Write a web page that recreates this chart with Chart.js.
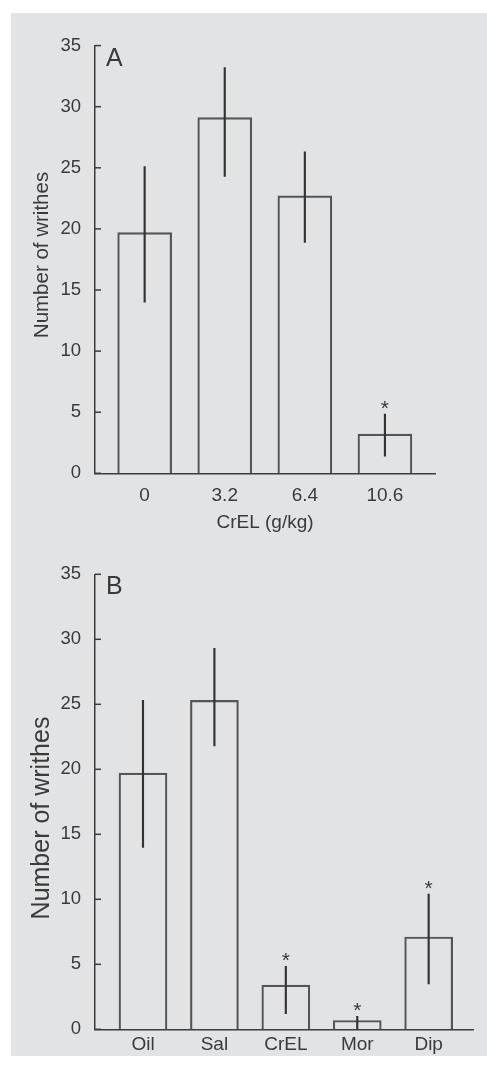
<!DOCTYPE html>
<html><head><meta charset="utf-8">
<script src="https://cdn.jsdelivr.net/npm/chart.js@4.4.0/dist/chart.umd.min.js"></script>
<style>
html,body{margin:0;padding:0;background:#fff;}
body{width:487px;height:1067px;position:relative;overflow:hidden;}
#bg{position:absolute;left:11px;top:13px;width:476px;height:1043px;background:#e2e3e5;}
#wa{position:absolute;left:0;top:0;width:487px;height:540px;}
#wb{position:absolute;left:0;top:540px;width:487px;height:527px;}
canvas{display:block;}
</style></head><body>
<div id="bg"></div>
<div id="wa"><canvas id="ca" width="487" height="540"></canvas></div>
<div id="wb"><canvas id="cb" width="487" height="527"></canvas></div>
<script>
// ---- data ----
const catsA = ['0', '3.2', '6.4', '10.6'];
const meanA = [19.7, 29.1, 22.7, 3.2];
const errHiA = [25.1, 33.2, 26.3, 4.85];
const errLoA = [14.0, 24.3, 18.9, 1.4];
const sigA = [false, false, false, true];

const catsB = ['Oil', 'Sal', 'CrEL', 'Mor', 'Dip'];
const meanB = [19.7, 25.3, 3.4, 0.68, 7.1];
const errHiB = [25.3, 29.3, 4.85, 1.0, 10.4];
const errLoB = [14.0, 21.8, 1.2, 0.05, 3.5];
const sigB = [false, false, true, true, true];

const yTicks = [0, 5, 10, 15, 20, 25, 30, 35];
const yTitle = 'Number of writhes';
const xTitleA = 'CrEL (g/kg)';

// ---- styling ----
const FAM = '"Liberation Sans", Arial, Helvetica, sans-serif';
Chart.defaults.font.family = FAM;
const TXT = '#3a3a3a';
const AXIS = '#3c3c3c';

function build(id, cats, mean, hi, lo, sig, cfg) {
  const decor = {
    id: 'decor' + id,
    afterDraw(chart) {
      const {ctx, chartArea, scales: {x, y}} = chart;
      ctx.save();
      // inward tick marks
      ctx.strokeStyle = AXIS;
      ctx.lineWidth = 1.5;
      yTicks.forEach(v => {
        const py = y.getPixelForValue(v);
        ctx.beginPath();
        ctx.moveTo(chartArea.left, py);
        ctx.lineTo(chartArea.left + 6, py);
        ctx.stroke();
      });
      // significance asterisks
      ctx.fillStyle = TXT;
      ctx.font = '21px ' + FAM;
      ctx.textAlign = 'center';
      ctx.textBaseline = 'alphabetic';
      sig.forEach((s, i) => {
        if (!s) return;
        ctx.fillText('*', x.getPixelForValue(i), y.getPixelForValue(hi[i]) + 1);
      });
      // panel letter
      ctx.font = '25px ' + FAM;
      ctx.textAlign = 'left';
      ctx.fillText(cfg.letter, chartArea.left + 11, chartArea.top + 20);
      // y axis title
      ctx.translate(42, cfg.titleY);
      ctx.rotate(-Math.PI / 2);
      ctx.font = cfg.titleSize + 'px ' + FAM;
      ctx.textAlign = 'center';
      ctx.textBaseline = 'middle';
      ctx.fillText(yTitle, 0, 0);
      ctx.restore();
    }
  };

  return new Chart(document.getElementById(id), {
    type: 'bar',
    data: {
      datasets: [
        {
          label: 'SEM',
          data: cats.map((c, i) => ({x: i, y: [lo[i], hi[i]]})),
          backgroundColor: '#333333',
          borderWidth: 0,
          barThickness: 1.5,
          grouped: false,
          order: 0
        },
        {
          label: 'Mean',
          data: cats.map((c, i) => ({x: i, y: mean[i]})),
          backgroundColor: 'rgba(0,0,0,0)',
          borderColor: '#555555',
          borderWidth: 1.5,
          borderSkipped: 'bottom',
          barThickness: cfg.barW,
          grouped: false,
          order: 1
        }
      ]
    },
    options: {
      responsive: false,
      animation: false,
      events: [],
      devicePixelRatio: 1,
      layout: {padding: cfg.pad},
      plugins: {legend: {display: false}, tooltip: {enabled: false}},
      scales: {
        x: {
          type: 'linear',
          offset: false,
          min: cfg.xMin,
          max: cfg.xMax,
          afterBuildTicks: s => { s.ticks = cats.map((c, i) => ({value: i})); },
          grid: {display: false, drawTicks: false, offset: false},
          border: {display: true, color: AXIS, width: 1.5},
          ticks: {
            callback: v => cats[v],
            color: TXT,
            font: {size: 19},
            padding: cfg.xPad,
            maxRotation: 0,
            autoSkip: false
          },
          title: cfg.xTitle ? {display: true, text: cfg.xTitle, color: TXT, font: {size: 19}, padding: 0} : {display: false},
          afterFit: s => { s.height = cfg.xH; }
        },
        y: {
          min: 0,
          max: 35,
          afterBuildTicks: s => { s.ticks = yTicks.map(v => ({value: v})); },
          grid: {display: false, drawTicks: false},
          border: {display: true, color: AXIS, width: 1.5},
          ticks: {color: TXT, font: {size: 18.5}, padding: 14},
          afterFit: s => { s.width = 95; }
        }
      }
    },
    plugins: [decor]
  });
}

build('ca', catsA, meanA, errHiA, errLoA, sigA, {
  letter: 'A', titleY: 255, titleSize: 20.5,
  xMin: -0.62, xMax: 3.625, barW: 54,
  xTitle: xTitleA, xPad: 10.8, xH: 61.1,
  pad: {top: 45.6, left: 0, right: 52, bottom: 5.6}
});
build('cb', catsB, meanB, errHiB, errLoB, sigB, {
  letter: 'B', titleY: 278, titleSize: 25,
  xMin: -0.672, xMax: 4.625, barW: 48,
  xTitle: null, xPad: 4.3, xH: 30,
  pad: {top: 34.3, left: 0, right: 13.7, bottom: 7.7}
});
</script>
</body></html>
